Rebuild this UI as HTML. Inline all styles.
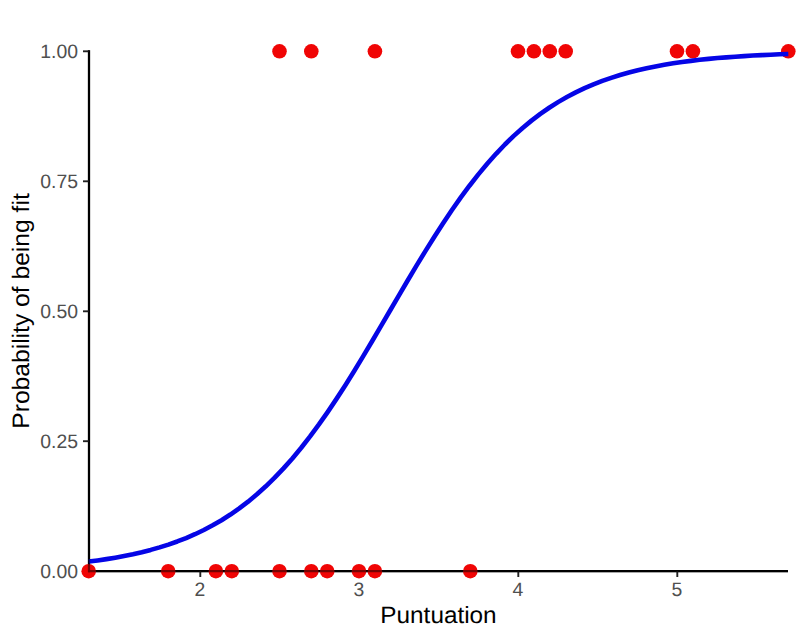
<!DOCTYPE html>
<html><head><meta charset="utf-8"><style>
html,body{margin:0;padding:0;background:#fff;}
svg{display:block;font-family:"Liberation Sans",sans-serif;text-rendering:geometricPrecision;}
</style></head><body>
<svg width="800" height="640" viewBox="0 0 800 640">
<rect width="800" height="640" fill="#fff"/>
<g stroke="#000" stroke-width="2.2" fill="none"><line x1="89" x2="89" y1="50.3" y2="572.2"/><line x1="88" x2="788" y1="571.1" y2="571.1"/></g>
<g stroke="#222" stroke-width="1.9"><line x1="83" x2="89" y1="571.2" y2="571.2"/><line x1="83" x2="89" y1="441.2" y2="441.2"/><line x1="83" x2="89" y1="311.3" y2="311.3"/><line x1="83" x2="89" y1="181.3" y2="181.3"/><line x1="83" x2="89" y1="51.3" y2="51.3"/><line x1="200.3" x2="200.3" y1="571.1" y2="577"/><line x1="359.3" x2="359.3" y1="571.1" y2="577"/><line x1="518.3" x2="518.3" y1="571.1" y2="577"/><line x1="677.3" x2="677.3" y1="571.1" y2="577"/></g>
<g fill="#f00505"><circle cx="279.5" cy="51.3" r="7.3"/><circle cx="311.3" cy="51.3" r="7.3"/><circle cx="374.9" cy="51.3" r="7.3"/><circle cx="518.0" cy="51.3" r="7.3"/><circle cx="533.9" cy="51.3" r="7.3"/><circle cx="549.8" cy="51.3" r="7.3"/><circle cx="565.7" cy="51.3" r="7.3"/><circle cx="677.0" cy="51.3" r="7.3"/><circle cx="692.9" cy="51.3" r="7.3"/><circle cx="788.3" cy="51.3" r="7.3"/><circle cx="88.7" cy="571.2" r="7.3"/><circle cx="168.2" cy="571.2" r="7.3"/><circle cx="215.9" cy="571.2" r="7.3"/><circle cx="231.8" cy="571.2" r="7.3"/><circle cx="279.5" cy="571.2" r="7.3"/><circle cx="311.3" cy="571.2" r="7.3"/><circle cx="327.2" cy="571.2" r="7.3"/><circle cx="359.0" cy="571.2" r="7.3"/><circle cx="374.9" cy="571.2" r="7.3"/><circle cx="470.3" cy="571.2" r="7.3"/></g>
<path d="M88.70,561.58 L97.56,560.42 L106.41,559.11 L115.27,557.65 L124.12,556.02 L132.98,554.20 L141.83,552.17 L150.69,549.91 L159.55,547.39 L168.40,544.59 L177.26,541.48 L186.11,538.03 L194.97,534.21 L203.82,529.98 L212.68,525.33 L221.54,520.20 L230.39,514.56 L239.25,508.39 L248.10,501.65 L256.96,494.30 L265.81,486.32 L274.67,477.69 L283.53,468.39 L292.38,458.41 L301.24,447.75 L310.09,436.42 L318.95,424.43 L327.80,411.81 L336.66,398.61 L345.52,384.88 L354.37,370.69 L363.23,356.12 L372.08,341.25 L380.94,326.18 L389.79,311.00 L398.65,295.83 L407.51,280.77 L416.36,265.91 L425.22,251.34 L434.07,237.17 L442.93,223.46 L451.78,210.27 L460.64,197.68 L469.49,185.71 L478.35,174.39 L487.21,163.75 L496.06,153.80 L504.92,144.52 L513.77,135.91 L522.63,127.95 L531.48,120.63 L540.34,113.90 L549.20,107.75 L558.05,102.13 L566.91,97.02 L575.76,92.37 L584.62,88.16 L593.47,84.36 L602.33,80.92 L611.19,77.82 L620.04,75.03 L628.90,72.52 L637.75,70.26 L646.61,68.24 L655.46,66.42 L664.32,64.80 L673.18,63.35 L682.03,62.04 L690.89,60.88 L699.74,59.84 L708.60,58.91 L717.45,58.08 L726.31,57.35 L735.17,56.69 L744.02,56.10 L752.88,55.57 L761.73,55.10 L770.59,54.69 L779.44,54.32 L788.30,53.99" fill="none" stroke="#0505e6" stroke-width="4.6" stroke-linejoin="round" stroke-linecap="butt"/>
<g stroke="#000" stroke-width="2.2" fill="none" opacity="0.5"><line x1="89" x2="89" y1="50.3" y2="572.2"/><line x1="88" x2="788" y1="571.1" y2="571.1"/></g>
<g fill="#4d4d4d" font-size="19.4" opacity="0.99"><text x="78" y="578.1" text-anchor="end">0.00</text><text x="78" y="448.1" text-anchor="end">0.25</text><text x="78" y="318.2" text-anchor="end">0.50</text><text x="78" y="188.2" text-anchor="end">0.75</text><text x="78" y="58.2" text-anchor="end">1.00</text><text x="200.0" y="596" text-anchor="middle">2</text><text x="359.0" y="596" text-anchor="middle">3</text><text x="518.0" y="596" text-anchor="middle">4</text><text x="677.0" y="596" text-anchor="middle">5</text></g>
<text transform="translate(438.5,622.8) scale(1.035,1)" text-anchor="middle" font-size="23.5" fill="#000">Puntuation</text>
<text transform="translate(28.8,311) rotate(-90) scale(1.035,1)" text-anchor="middle" font-size="23.8" fill="#000">Probability of being fit</text>
</svg>
</body></html>
